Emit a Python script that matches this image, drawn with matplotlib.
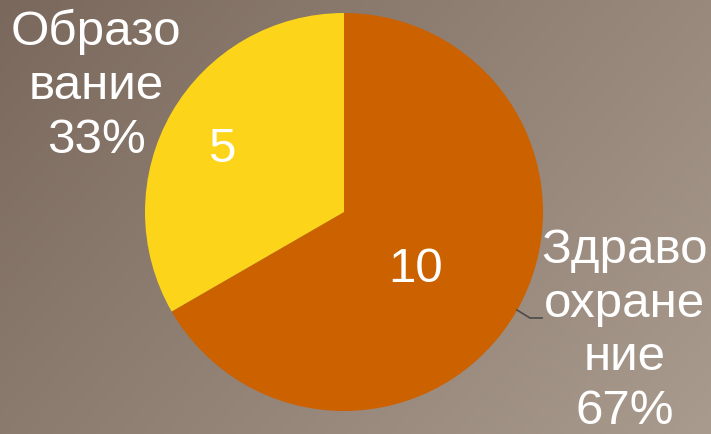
import matplotlib
matplotlib.use("Agg")
import matplotlib.pyplot as plt
import numpy as np

categories = ["Здраво\nохране\nние", "Образо\nвание"]
values = [10, 5]
colors = ["#CC6100", "#FCD419"]

W, H = 711, 434
fig = plt.figure(figsize=(W / 100, H / 100), dpi=100)
ax = fig.add_axes([0, 0, 1, 1])

# background gradient
yy, xx = np.mgrid[0:H, 0:W]
t = (xx / W) * 0.65 + (yy / H) * 0.35
c0 = np.array([122, 104, 92]) / 255
c1 = np.array([170, 155, 143]) / 255
img = c0[None, None, :] * (1 - t[..., None]) + c1[None, None, :] * t[..., None]
ax.imshow(img, extent=(0, W, 0, H), origin="upper", zorder=0)

cx, cy, r = 344, H - 212, 199
total = sum(values)
wedges, _ = ax.pie(values, colors=colors, startangle=90, counterclock=False,
                   center=(cx, cy), radius=r, wedgeprops=dict(linewidth=0))
for w in wedges:
    w.set_zorder(2)

ax.set_xlim(0, W)
ax.set_ylim(0, H)
ax.set_aspect("equal")
ax.axis("off")

font = "Liberation Sans"
fs = 35.5
# inside value labels
ax.text(416, H - 270, str(values[0]), color="white", fontsize=fs, family=font,
        ha="center", va="center", zorder=3)
ax.text(222, H - 150, str(values[1]), color="white", fontsize=fs, family=font,
        ha="center", va="center", zorder=3)

pcts = [round(v / total * 100) for v in values]
ax.text(625, H - 331, f"{categories[0]}\n{pcts[0]}%", color="white", fontsize=fs,
        family=font, ha="center", va="center", linespacing=1.25, zorder=3)
ax.text(96, H - 86, f"{categories[1]}\n{pcts[1]}%", color="white", fontsize=fs,
        family=font, ha="center", va="center", linespacing=1.25, zorder=3)

# leader line
ax.plot([517, 530, 542], [H - 310, H - 318, H - 318], color="#4a4a4a", lw=1.2, zorder=3)

fig.savefig("out.png", dpi=100)
